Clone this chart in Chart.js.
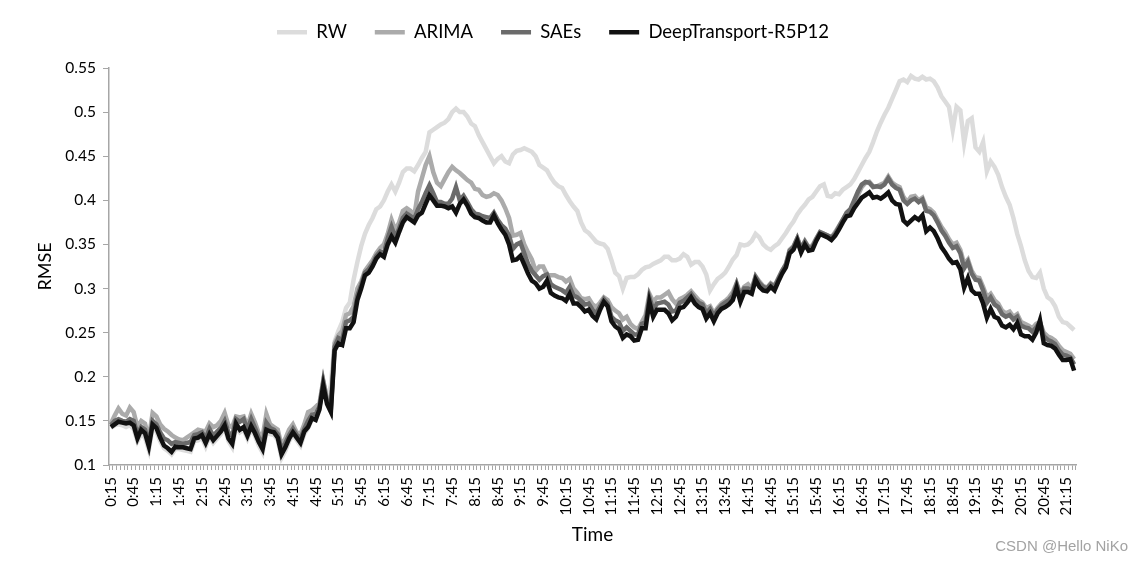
<!DOCTYPE html>
<html>
<head>
<meta charset="utf-8">
<script src="https://cdn.jsdelivr.net/npm/chart.js@4.4.0/dist/chart.umd.min.js"></script>
<style>
  html, body { margin: 0; padding: 0; background: #fff; }
  #wrap { position: relative; width: 1142px; height: 562px; }
  #mark { position: absolute; right: 14px; top: 537px; font: 15px "Liberation Sans", Arial, sans-serif; color: #a3a3a3; }
</style>
</head>
<body>
<div id="wrap">
  <canvas id="rmse_chart" width="1142" height="562"></canvas>
  <div id="mark">CSDN @Hello NiKo</div>
</div>
<script>
// 5-minute slots from 0:15 onward
const slotCount = 255;
const timeLabels = [];
for (let i = 0; i < slotCount; i++) {
  const m = 15 + 5 * i;
  timeLabels.push(Math.floor(m / 60) + ":" + String(m % 60).padStart(2, "0"));
}

const rw = [
  0.142, 0.145, 0.146, 0.145, 0.143, 0.145, 0.141, 0.127, 0.135, 0.131,
  0.117, 0.142, 0.138, 0.127, 0.119, 0.116, 0.112, 0.118, 0.118, 0.117,
  0.116, 0.115, 0.127, 0.128, 0.131, 0.121, 0.132, 0.125, 0.130, 0.135,
  0.142, 0.127, 0.120, 0.143, 0.137, 0.140, 0.130, 0.141, 0.133, 0.122,
  0.114, 0.137, 0.135, 0.134, 0.128, 0.108, 0.116, 0.127, 0.134, 0.128,
  0.122, 0.135, 0.142, 0.152, 0.152, 0.166, 0.195, 0.175, 0.190, 0.240,
  0.252, 0.262, 0.278, 0.284, 0.310, 0.330, 0.348, 0.362, 0.372, 0.380,
  0.390, 0.393, 0.400, 0.410, 0.418, 0.410, 0.420, 0.432, 0.436, 0.436,
  0.433, 0.440, 0.448, 0.455, 0.477, 0.480, 0.483, 0.486, 0.488, 0.492,
  0.500, 0.504, 0.500, 0.500, 0.495, 0.487, 0.484, 0.474, 0.466, 0.458,
  0.450, 0.442, 0.447, 0.450, 0.444, 0.442, 0.452, 0.456, 0.457, 0.459,
  0.457, 0.455, 0.450, 0.440, 0.437, 0.434, 0.426, 0.420, 0.416, 0.414,
  0.406, 0.399, 0.393, 0.388, 0.375, 0.366, 0.363, 0.358, 0.353, 0.351,
  0.350, 0.345, 0.332, 0.318, 0.314, 0.300, 0.312, 0.313, 0.313, 0.316,
  0.321, 0.324, 0.325, 0.328, 0.330, 0.332, 0.336, 0.336, 0.332, 0.332,
  0.334, 0.339, 0.336, 0.327, 0.330, 0.330, 0.325, 0.316, 0.298, 0.305,
  0.311, 0.314, 0.318, 0.325, 0.333, 0.338, 0.350, 0.349, 0.350, 0.354,
  0.362, 0.358, 0.350, 0.346, 0.344, 0.348, 0.351, 0.357, 0.363, 0.370,
  0.376, 0.384, 0.390, 0.395, 0.401, 0.404, 0.410, 0.416, 0.418, 0.405,
  0.404, 0.408, 0.407, 0.412, 0.415, 0.418, 0.424, 0.432, 0.440, 0.448,
  0.455, 0.466, 0.478, 0.488, 0.497, 0.505, 0.515, 0.525, 0.535, 0.537,
  0.534, 0.541, 0.538, 0.537, 0.540, 0.537, 0.538, 0.535, 0.528, 0.518,
  0.512, 0.506, 0.480, 0.506, 0.502, 0.465, 0.490, 0.493, 0.460, 0.455,
  0.466, 0.433, 0.444, 0.438, 0.429, 0.415, 0.404, 0.395, 0.380, 0.362,
  0.348, 0.332, 0.320, 0.313, 0.312, 0.318, 0.300, 0.290, 0.287, 0.280,
  0.268, 0.262, 0.261, 0.257, 0.253
];

const arima = [
  0.147, 0.156, 0.164, 0.158, 0.156, 0.165, 0.160, 0.143, 0.150, 0.147,
  0.130, 0.159, 0.155, 0.146, 0.141, 0.138, 0.134, 0.131, 0.129, 0.128,
  0.131, 0.134, 0.137, 0.140, 0.139, 0.138, 0.147, 0.143, 0.145, 0.150,
  0.159, 0.145, 0.143, 0.155, 0.154, 0.155, 0.144, 0.158, 0.148, 0.136,
  0.132, 0.158, 0.146, 0.143, 0.140, 0.122, 0.130, 0.140, 0.146, 0.137,
  0.135, 0.146, 0.160, 0.162, 0.166, 0.170, 0.196, 0.175, 0.167, 0.238,
  0.247, 0.252, 0.270, 0.272, 0.280, 0.300, 0.308, 0.320, 0.326, 0.332,
  0.340, 0.346, 0.350, 0.362, 0.378, 0.366, 0.375, 0.388, 0.391, 0.388,
  0.382, 0.410, 0.425, 0.440, 0.450, 0.432, 0.420, 0.416, 0.424, 0.432,
  0.438, 0.434, 0.431, 0.427, 0.423, 0.420, 0.413, 0.412, 0.406, 0.404,
  0.405, 0.408, 0.406, 0.400, 0.391, 0.380, 0.360, 0.361, 0.363, 0.350,
  0.341, 0.333, 0.320, 0.325, 0.325, 0.316, 0.315, 0.315, 0.313, 0.312,
  0.308, 0.311, 0.300, 0.295, 0.289, 0.288, 0.289, 0.282, 0.279, 0.284,
  0.290, 0.287, 0.279, 0.275, 0.272, 0.265, 0.268, 0.260, 0.256, 0.254,
  0.262, 0.270, 0.294, 0.285, 0.290, 0.290, 0.293, 0.296, 0.288, 0.283,
  0.288, 0.290, 0.293, 0.297, 0.292, 0.287, 0.284, 0.278, 0.280, 0.272,
  0.278, 0.283, 0.286, 0.290, 0.296, 0.306, 0.294, 0.302, 0.305, 0.300,
  0.314, 0.308, 0.303, 0.301, 0.306, 0.303, 0.312, 0.320, 0.328, 0.344,
  0.348, 0.357, 0.346, 0.354, 0.347, 0.349, 0.357, 0.364, 0.362, 0.360,
  0.358, 0.364, 0.371, 0.378, 0.385, 0.388, 0.397, 0.406, 0.415, 0.420,
  0.421, 0.416, 0.416, 0.418, 0.420, 0.427, 0.420, 0.417, 0.415, 0.404,
  0.398, 0.404, 0.405, 0.400, 0.403, 0.392, 0.390, 0.386, 0.378, 0.370,
  0.364, 0.356, 0.350, 0.352, 0.344, 0.328, 0.333, 0.320, 0.313, 0.312,
  0.302, 0.290, 0.294, 0.287, 0.283, 0.275, 0.272, 0.274, 0.268, 0.271,
  0.262, 0.260, 0.258, 0.255, 0.260, 0.262, 0.250, 0.246, 0.244, 0.241,
  0.235, 0.230, 0.228, 0.226, 0.220
];

const saes = [
  0.145, 0.150, 0.152, 0.150, 0.149, 0.152, 0.150, 0.135, 0.143, 0.140,
  0.125, 0.150, 0.146, 0.137, 0.130, 0.128, 0.124, 0.126, 0.125, 0.124,
  0.125, 0.126, 0.134, 0.135, 0.137, 0.130, 0.141, 0.133, 0.138, 0.142,
  0.150, 0.137, 0.133, 0.152, 0.149, 0.152, 0.140, 0.152, 0.142, 0.131,
  0.123, 0.148, 0.142, 0.140, 0.135, 0.117, 0.125, 0.134, 0.141, 0.134,
  0.130, 0.141, 0.150, 0.157, 0.158, 0.166, 0.194, 0.172, 0.163, 0.234,
  0.244, 0.242, 0.262, 0.264, 0.268, 0.292, 0.304, 0.318, 0.322, 0.328,
  0.337, 0.342, 0.340, 0.357, 0.370, 0.358, 0.368, 0.380, 0.385, 0.382,
  0.379, 0.390, 0.398, 0.408, 0.417, 0.408, 0.398, 0.398, 0.396, 0.396,
  0.402, 0.415, 0.400, 0.405, 0.398, 0.390, 0.385, 0.384, 0.382, 0.381,
  0.380, 0.386, 0.378, 0.372, 0.368, 0.360, 0.345, 0.350, 0.352, 0.340,
  0.328, 0.320, 0.315, 0.310, 0.314, 0.316, 0.305, 0.302, 0.300, 0.298,
  0.295, 0.302, 0.292, 0.290, 0.286, 0.282, 0.283, 0.276, 0.272, 0.280,
  0.288, 0.283, 0.268, 0.264, 0.262, 0.252, 0.256, 0.252, 0.248, 0.248,
  0.260, 0.262, 0.290, 0.276, 0.283, 0.284, 0.285, 0.282, 0.274, 0.275,
  0.284, 0.286, 0.290, 0.294, 0.288, 0.284, 0.282, 0.272, 0.277, 0.269,
  0.276, 0.281, 0.284, 0.287, 0.292, 0.305, 0.291, 0.300, 0.300, 0.298,
  0.313, 0.306, 0.302, 0.300, 0.305, 0.302, 0.311, 0.320, 0.327, 0.343,
  0.347, 0.357, 0.345, 0.353, 0.346, 0.347, 0.356, 0.364, 0.362, 0.360,
  0.358, 0.362, 0.370, 0.378, 0.386, 0.390, 0.400, 0.410, 0.418, 0.421,
  0.420, 0.415, 0.416, 0.415, 0.418, 0.425, 0.418, 0.414, 0.412, 0.400,
  0.396, 0.400, 0.402, 0.398, 0.401, 0.388, 0.387, 0.383, 0.375, 0.366,
  0.360, 0.352, 0.346, 0.348, 0.340, 0.323, 0.330, 0.317, 0.310, 0.309,
  0.298, 0.284, 0.290, 0.282, 0.279, 0.271, 0.268, 0.270, 0.265, 0.268,
  0.258, 0.256, 0.255, 0.251, 0.256, 0.262, 0.246, 0.242, 0.240, 0.237,
  0.230, 0.225, 0.224, 0.222, 0.214
];

const deepTransport = [
  0.143, 0.146, 0.149, 0.148, 0.147, 0.148, 0.145, 0.130, 0.140, 0.136,
  0.121, 0.146, 0.142, 0.131, 0.122, 0.119, 0.115, 0.121, 0.120, 0.120,
  0.119, 0.118, 0.130, 0.131, 0.134, 0.125, 0.135, 0.128, 0.133, 0.138,
  0.145, 0.130, 0.124, 0.147, 0.140, 0.143, 0.133, 0.144, 0.136, 0.126,
  0.118, 0.140, 0.138, 0.137, 0.131, 0.112, 0.120, 0.130, 0.137, 0.131,
  0.125, 0.138, 0.143, 0.153, 0.151, 0.163, 0.190, 0.169, 0.160, 0.230,
  0.238, 0.236, 0.255, 0.255, 0.262, 0.287, 0.300, 0.315, 0.318, 0.325,
  0.334, 0.339, 0.336, 0.350, 0.359, 0.352, 0.364, 0.375, 0.381, 0.378,
  0.375, 0.383, 0.386, 0.396, 0.406, 0.400, 0.394, 0.394, 0.393, 0.391,
  0.393, 0.386, 0.396, 0.401, 0.394, 0.385, 0.381, 0.380, 0.377, 0.375,
  0.375, 0.383, 0.374, 0.367, 0.361, 0.350, 0.332, 0.333, 0.337, 0.327,
  0.317, 0.309, 0.306, 0.300, 0.302, 0.309, 0.295, 0.292, 0.290, 0.289,
  0.286, 0.294, 0.283, 0.283, 0.279, 0.274, 0.276, 0.269, 0.265, 0.276,
  0.285, 0.280, 0.263, 0.257, 0.254, 0.244, 0.248, 0.246, 0.241, 0.242,
  0.255, 0.255, 0.285, 0.268, 0.276, 0.276, 0.276, 0.272, 0.264, 0.268,
  0.278, 0.279, 0.284, 0.290, 0.283, 0.279, 0.277, 0.266, 0.272, 0.263,
  0.272, 0.277, 0.279, 0.282, 0.287, 0.301, 0.285, 0.296, 0.296, 0.294,
  0.310, 0.302, 0.298, 0.297, 0.302, 0.298, 0.308, 0.317, 0.324, 0.340,
  0.344, 0.354, 0.341, 0.350, 0.343, 0.344, 0.354, 0.362, 0.360, 0.358,
  0.355, 0.360, 0.367, 0.375, 0.382, 0.383, 0.391, 0.397, 0.403, 0.406,
  0.409, 0.403, 0.404, 0.402, 0.405, 0.409, 0.400, 0.396, 0.395, 0.377,
  0.373, 0.377, 0.381, 0.378, 0.383, 0.365, 0.369, 0.365, 0.357, 0.347,
  0.341, 0.334, 0.329, 0.330, 0.322, 0.301, 0.312, 0.298, 0.294, 0.294,
  0.283, 0.267, 0.277, 0.268, 0.266, 0.258, 0.256, 0.259, 0.254, 0.261,
  0.248, 0.246, 0.246, 0.242, 0.250, 0.264, 0.238, 0.236, 0.235, 0.232,
  0.225, 0.219, 0.219, 0.220, 0.207
];

const axisGray = "#a6a6a6";
const fontFamily = "Lato, 'Open Sans', sans-serif";

// fixed legend band height so the plot starts where it does in the picture
const legendBand = {
  id: "legendBand",
  beforeInit(chart) {
    const fit = chart.legend.fit;
    chart.legend.fit = function () {
      fit.bind(chart.legend)();
      this.height = 73;
    };
  },
};

const makeLine = (label, data, color, order) => ({
  label: label,
  data: data,
  borderColor: color,
  backgroundColor: color,
  borderWidth: 4.5,
  pointRadius: 0,
  tension: 0,
  fill: false,
  order: order,
});

const ctx = document.getElementById("rmse_chart");
new Chart(ctx, {
  type: "line",
  data: {
    labels: timeLabels,
    datasets: [
      makeLine("RW", rw, "#dcdcdc", 3),
      makeLine("ARIMA", arima, "#ababab", 2),
      makeLine("SAEs", saes, "#6b6b6b", 1),
      makeLine("DeepTransport-R5P12", deepTransport, "#111111", 0),
    ],
  },
  options: {
    responsive: false,
    animation: false,
    layout: {
      padding: { left: 30, right: 66, top: -5, bottom: 0 },
    },
    plugins: {
      legend: {
        position: "top",
        labels: {
          usePointStyle: true,
          pointStyle: "line",
          pointStyleWidth: 30,
          padding: 28,
          color: "#000",
          font: { family: fontFamily, size: 18.5 },
          sort: (a, b) => a.datasetIndex - b.datasetIndex,
        },
      },
      tooltip: { enabled: false },
    },
    scales: {
      x: {
        type: "category",
        offset: true,
        afterFit: (scale) => {
          scale.height = 97;
        },
        grid: {
          display: true,
          offset: true,
          drawOnChartArea: false,
          drawTicks: true,
          tickLength: 5,
          color: axisGray,
        },
        border: { display: true, color: axisGray, width: 1.5 },
        ticks: {
          autoSkip: false,
          maxRotation: 90,
          minRotation: 90,
          padding: 7,
          color: "#000",
          font: { family: fontFamily, size: 15 },
          callback: function (value, index) {
            return index % 6 === 0 ? timeLabels[index] : "";
          },
        },
        title: {
          display: true,
          text: "Time",
          color: "#000",
          font: { family: fontFamily, size: 19 },
          padding: { top: 4, bottom: 16 },
        },
      },
      y: {
        min: 0.1,
        max: 0.55,
        afterFit: (scale) => {
          scale.width = 79;
        },
        grid: {
          display: true,
          drawOnChartArea: false,
          drawTicks: true,
          tickLength: 6,
          color: axisGray,
        },
        border: { display: true, color: axisGray, width: 1.5 },
        ticks: {
          stepSize: 0.05,
          padding: 7,
          color: "#000",
          font: { family: fontFamily, size: 15.5 },
          callback: function (value) {
            return String(+value.toFixed(2));
          },
        },
        title: {
          display: true,
          text: "RMSE",
          color: "#000",
          font: { family: fontFamily, size: 18 },
          padding: { top: 4, bottom: 4 },
        },
      },
    },
  },
  plugins: [legendBand],
});
</script>
</body>
</html>
